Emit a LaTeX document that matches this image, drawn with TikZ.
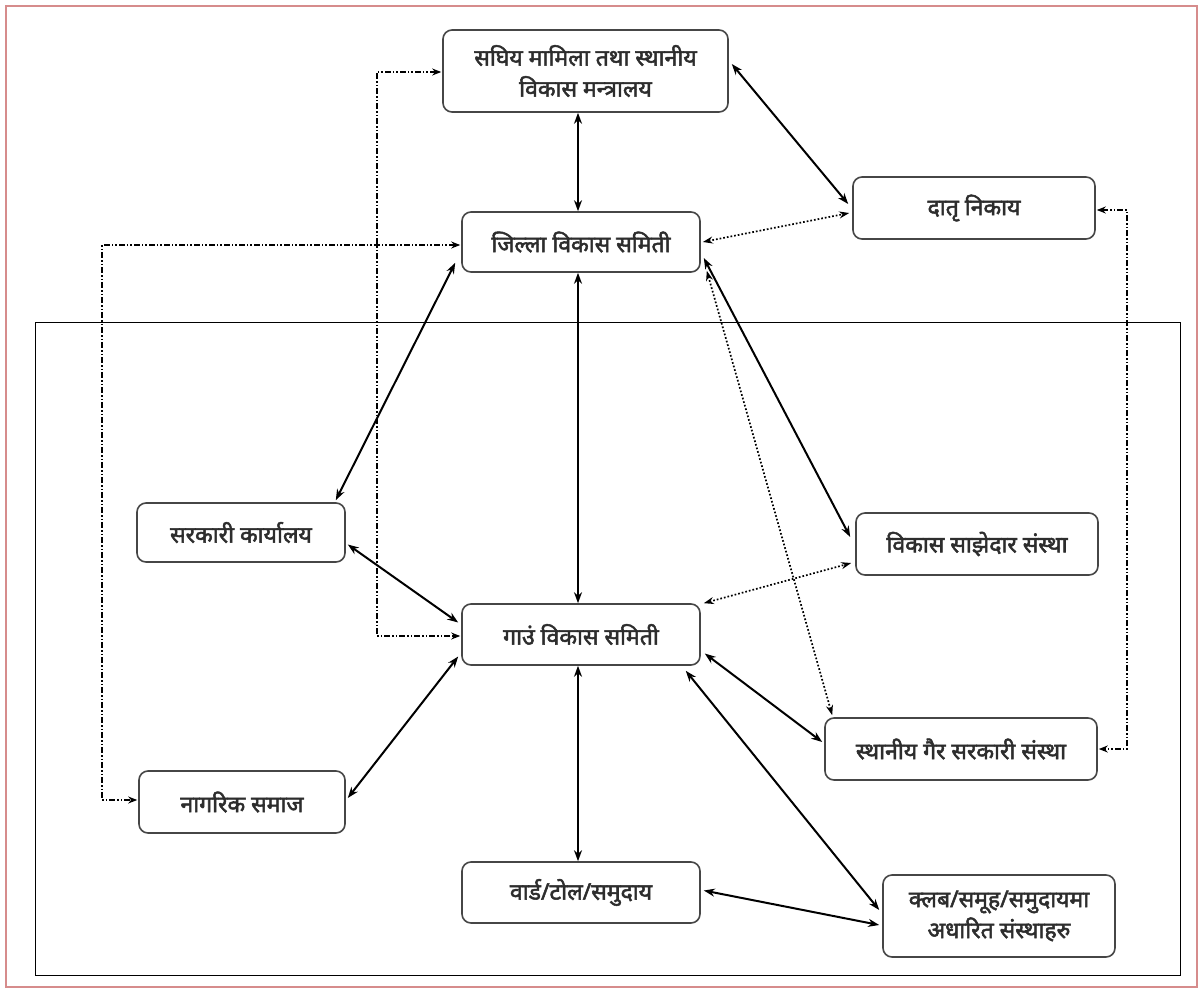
\documentclass[tikz,border=0pt]{standalone}
\usepackage{fontspec}
\newfontfamily\deva[Script=Devanagari,AutoFakeBold=2.2]{Noto Sans}
\usetikzlibrary{arrows.meta,calc}
\definecolor{frame}{RGB}{214,140,140}
\definecolor{boxline}{RGB}{70,70,70}
\definecolor{txt}{RGB}{45,45,45}
\begin{document}
\begin{tikzpicture}[x=1pt,y=-1pt,
  box/.style={draw=boxline, line width=1.6pt, rounded corners=9pt, fill=white,
    inner sep=0pt, align=center, text=txt, font=\deva\bfseries\fontsize{23}{31}\selectfont},
  link/.style={line width=2pt, {Stealth[length=11pt,width=8pt]}-{Stealth[length=11pt,width=8pt]}},
  dotlink/.style={line width=1.7pt, dotted, {Stealth[length=10pt,width=7pt]}-{Stealth[length=10pt,width=7pt]}},
  ddlink/.style={line width=2pt, dash pattern=on 6pt off 2pt on 1.5pt off 2pt on 1.5pt off 2pt,
    {Stealth[length=9pt,width=7pt]}-{Stealth[length=9pt,width=7pt]}}
]
\useasboundingbox (0,0) rectangle (1203,991);
\draw[frame, line width=2.2pt] (6,6) rectangle (1197,987);
\draw[line width=1pt] (35,322) rectangle (1180,975);

\node[box, minimum width=285, minimum height=82] (min) at (585.5,71) {सघिय मामिला तथा स्थानीय\\विकास मन्त्रालय};
\node[box, minimum width=238, minimum height=60] (dist) at (581,242) {जिल्ला विकास समिती};
\node[box, minimum width=242, minimum height=62] (donor) at (974,208) {दातृ निकाय};
\node[box, minimum width=208, minimum height=59] (sark) at (241,532.5) {सरकारी कार्यालय};
\node[box, minimum width=242, minimum height=62] (bikas) at (977,544) {विकास साझेदार संस्था};
\node[box, minimum width=238, minimum height=61] (vdc) at (581,634.5) {गाउं विकास समिती};
\node[box, minimum width=272, minimum height=62] (ngo) at (961,749) {स्थानीय गैर सरकारी संस्था};
\node[box, minimum width=206, minimum height=62] (nag) at (242,802) {नागरिक समाज};
\node[box, minimum width=238, minimum height=61] (ward) at (581,892.5) {वार्ड/टोल/समुदाय};
\node[box, minimum width=232, minimum height=82] (club) at (999,916) {क्लब/समूह/समुदायमा\\अधारित संस्थाहरु};

% solid connectors
\draw[link] ($(min.south)+(-7.5,0)$) -- ($(dist.north)+(-3,0)$);
\draw[link] ($(min.east)+(3,-7)$) -- ($(donor.west)+(-4,-4)$);
\draw[link] ($(dist.south)+(-3,0)$) -- ($(vdc.north)+(-3,0)$);
\draw[link] ($(dist.south west)+(-6,-10)$) -- ($(sark.north east)+(-10,-2)$);
\draw[link] ($(dist.east)+(3,16)$) -- ($(bikas.west)+(-5,-7)$);
\draw[link] ($(sark.east)+(2,12)$) -- ($(vdc.west)+(-3,-12)$);
\draw[link] ($(nag.east)+(2,-4)$) -- ($(vdc.west)+(-3,22)$);
\draw[link] ($(vdc.east)+(4,19)$) -- ($(ngo.west)+(-2,-7)$);
\draw[link] ($(vdc.south east)+(-15,5)$) -- ($(club.west)+(-3,-6)$);
\draw[link] ($(vdc.south)+(-3,0)$) -- ($(ward.north)+(-3,0)$);
\draw[link] ($(ward.east)+(3,-2)$) -- ($(club.west)+(-3,9)$);

% dotted connectors
\draw[dotlink] ($(dist.east)+(2,0)$) -- ($(donor.west)+(-3,5)$);
\draw[dotlink] ($(dist.south east)+(6,-2)$) -- ($(ngo.north west)+(8,-2)$);
\draw[dotlink] ($(vdc.north east)+(3,0)$) -- ($(bikas.west)+(-4,19)$);

% dash-dot connectors
\draw[ddlink] ($(min.west)+(-1,1)$) -- (377,72) |- ($(vdc.west)+(-1,1.5)$);
\draw[ddlink] ($(dist.west)+(-1,3)$) -- (102,245) |- ($(nag.west)+(-1,-2)$);
\draw[ddlink] ($(donor.east)+(1,2)$) -- (1127,210) |- ($(ngo.east)+(1,0)$);
\end{tikzpicture}
\end{document}
